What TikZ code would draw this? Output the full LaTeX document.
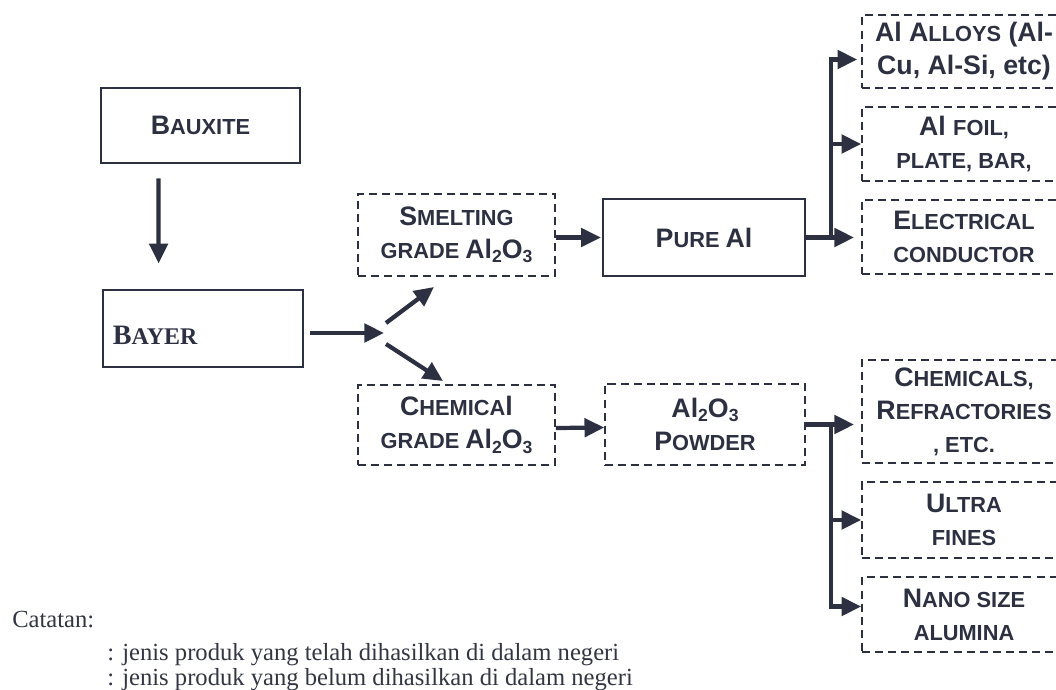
\documentclass[tikz,border=0pt]{standalone}
\definecolor{inkdark}{HTML}{2C3040}
\definecolor{inkgrey}{HTML}{333642}
\usepackage{fontspec}
\setmainfont{Liberation Serif}
\setsansfont{Liberation Sans}
\usepackage{tikz}
\usetikzlibrary{arrows.meta,calc}
\newcommand{\smc}[1]{{\fontsize{15.5}{23.5}\selectfont #1}}
\newcommand{\lowidx}[1]{\raisebox{-0.3ex}{\fontsize{12.5}{12.5}\selectfont #1}}

\begin{document}
\begin{tikzpicture}[x=0.025cm, y=-0.025cm,
  boxtext/.style={text=inkdark, align=center, font=\sffamily\bfseries\fontsize{19}{23.5}\selectfont},
  solidbox/.style={boxtext, draw=inkdark, line width=1.9pt},
  dashbox/.style={boxtext, draw=inkdark, line width=1.1pt, dash pattern=on 5.7pt off 3.6pt},
  arr/.style={draw=inkdark, line width=3pt, -{Triangle[length=14pt,width=13pt]}},
  note/.style={text=inkgrey, anchor=base west, inner sep=0pt, font=\rmfamily\fontsize{17.5}{21}\selectfont}]
\useasboundingbox (0,0) rectangle (1056,689);

\node[solidbox, minimum width=4.98cm, minimum height=1.88cm] (bauxite) at (200.5,125.5) {B\smc{AUXITE}};
\node[solidbox, minimum width=5cm, minimum height=1.93cm, align=left, text width=4.5cm,
  text height=23.4pt, text depth=0pt, font=\rmfamily\bfseries\fontsize{20}{23.5}\selectfont] (bayer) at (203,328.5)
  {B{\fontsize{17}{20}\selectfont AYER}};
\node[dashbox, minimum width=4.93cm, minimum height=2.05cm] (smelt) at (456.5,235)
  {S\smc{MELTING}\\\smc{GRADE }Al\lowidx{2}O\lowidx{3}};
\node[dashbox, minimum width=4.93cm, minimum height=2cm] (chemg) at (456.5,425)
  {C\smc{HEMICA}l\\\smc{GRADE }Al\lowidx{2}O\lowidx{3}};
\node[solidbox, minimum width=5.05cm, minimum height=1.93cm] (pure) at (704,237.5) {P\smc{URE }Al};
\node[dashbox, minimum width=5cm, minimum height=2.03cm] (powder) at (705,424.5)
  {Al\lowidx{2}O\lowidx{3}\\P\smc{OWDER}};

\node[dashbox, minimum width=5.1cm, minimum height=1.83cm] (alloy) at (964,51.5)
  {Al A\smc{LLOYS} (Al-\\Cu, Al-Si, etc)};
\node[dashbox, minimum width=5.1cm, minimum height=1.85cm] (foil) at (964,144)
  {Al \smc{FOIL,}\\\smc{PLATE, BAR,}};
\node[dashbox, minimum width=5.1cm, minimum height=1.85cm] (elec) at (964,237)
  {E\smc{LECTRICAL}\\\smc{CONDUCTOR}};
\node[dashbox, minimum width=5.1cm, minimum height=2.58cm] (chem) at (964,411.5)
  {C\smc{HEMICALS,}\\R\smc{EFRACTORIES}\\\smc{, ETC.}};
\node[dashbox, minimum width=5.1cm, minimum height=1.9cm] (ultra) at (964,520)
  {U\smc{LTRA}\\\smc{FINES}};
\node[dashbox, minimum width=5.1cm, minimum height=1.88cm] (nano) at (964,614.5)
  {N\smc{ANO SIZE}\\\smc{ALUMINA}};

\coordinate (fork) at (384,333);
\coordinate (forkup) at (434,287);
\coordinate (forkdn) at (443,381);
\coordinate (busA) at ($(pure.east)+(25,0)$);
\coordinate (busB) at ($(powder.east)+(25,0)$);

\draw[arr, shorten <=0.35cm, shorten >=0.63cm] ($(bauxite.south west)+(59,0)$) -- ($(bayer.north west)+(57,0)$);
\draw[arr, shorten <=0.15cm] (bayer.east |- fork) -- (fork);
\draw[arr] ($(fork)+(2,-10)$) -- (forkup);
\draw[arr] ($(fork)+(2,11)$) -- (forkdn);
\draw[arr, shorten >=0.02cm] (smelt.east |- pure.east) -- (pure.east -| pure.west);
\draw[arr] ($(chemg.east)+(0,3)$) -- ($(powder.west)+(0,3)$);

\draw[arr, shorten >=0.18cm] (pure.east) -- (pure.east -| elec.west);
\draw[arr, shorten >=0.1cm] (busA) |- ($(alloy.west)+(0,8)$);
\draw[arr] (busA) |- (foil.west);

\draw[arr, shorten >=0.18cm] (powder.east) -- (powder.east -| chem.west);
\draw[arr] (busB) |- (ultra.west);
\draw[arr] (busB) |- ($(nano.west)+(0,-8)$);

\node[note] (catatan) at (12,627) {Catatan:};
\node[note] (ket1) at (107,660) {: jenis produk yang telah dihasilkan di dalam negeri};
\node[note] (ket2) at (107,685) {: jenis produk yang belum dihasilkan di dalam negeri};
\end{tikzpicture}
\end{document}
